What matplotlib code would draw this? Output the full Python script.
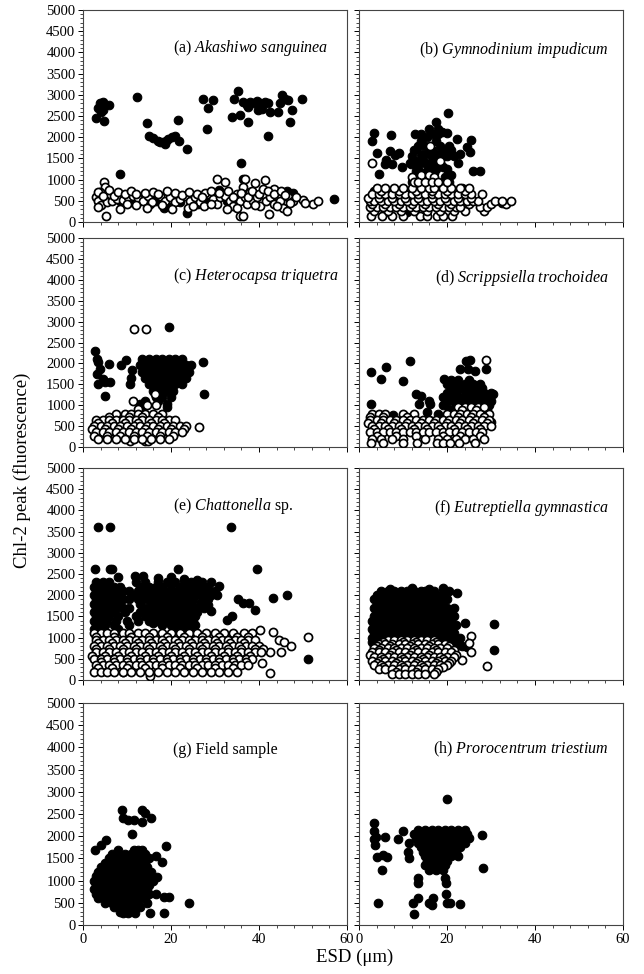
import matplotlib
matplotlib.use("Agg")
import matplotlib.pyplot as plt
from matplotlib.ticker import MultipleLocator, AutoMinorLocator

plt.rcParams['font.family'] = ['Liberation Serif', 'DejaVu Serif']
plt.rcParams['mathtext.fontset'] = 'custom'
plt.rcParams['mathtext.rm'] = 'Liberation Serif'
plt.rcParams['mathtext.it'] = 'Liberation Serif:italic'

# ---------------- data (ESD um, Chl-2 peak) ----------------
# filled = one group, open = other group; dense clouds stored as rows {y: [x, ...]}

a_fill = [(3.0, 2450), (3.3, 2690), (3.9, 2800), (4.6, 2840), (6.0, 2770), (4.0, 2600), (4.8, 2380),
          (4.5, 2640), (12.3, 2950), (14.5, 2340), (15.0, 2040), (15.8, 1985), (17.1, 1920), (18.1, 1880),
          (18.9, 1920), (19.4, 1960), (20.2, 2000), (20.9, 2040), (17.5, 1880), (18.6, 1840), (21.7, 2400),
          (21.9, 1900), (23.6, 1720), (27.2, 2900), (28.5, 2680), (29.5, 2870), (28.1, 2200), (34.4, 2910),
          (33.8, 2480), (35.3, 3090), (35.7, 2520), (36.4, 2840), (37.2, 2760), (38.0, 2840), (38.7, 2800),
          (39.5, 2860), (40.2, 2800), (41.4, 2840), (42.1, 2800), (37.6, 2720), (39.8, 2640), (40.6, 2660),
          (42.5, 2600), (44.4, 2600), (44.8, 2800), (45.2, 2990), (45.9, 2910), (46.7, 2870), (47.4, 2640),
          (47.0, 2360), (49.7, 2890), (37.6, 2370), (42.1, 2040), (35.8, 1400), (36.4, 1010), (8.3, 1130),
          (30.8, 750), (46.3, 730), (47.8, 690), (57.0, 540), (8.4, 500), (10.7, 460), (13.0, 500),
          (15.2, 420), (16.7, 500), (19.0, 380), (22.0, 460), (25.1, 500), (26.2, 420), (28.1, 500),
          (32.7, 500), (34.9, 460), (18.3, 340), (23.6, 210), (16.4, 540)]
a_open = [(3.0, 580), (3.5, 500), (4.0, 410), (5.0, 580), (3.3, 360), (5.4, 460), (6.5, 500), (7.7, 540),
          (9.2, 520), (10.3, 580), (11.4, 620), (12.6, 570), (13.7, 500), (14.8, 620), (15.6, 460),
          (17.5, 620), (18.6, 500), (19.8, 580), (20.9, 460), (22.0, 540), (23.2, 620), (24.3, 500),
          (25.5, 580), (26.6, 460), (27.5, 380), (28.5, 660), (29.6, 540), (30.4, 420), (31.1, 580),
          (32.3, 620), (33.4, 500), (34.2, 380), (34.9, 660), (35.7, 500), (36.8, 580), (37.2, 420),
          (38.0, 700), (38.7, 500), (39.5, 580), (40.2, 380), (41.0, 660), (41.7, 500), (42.5, 580),
          (43.3, 420), (44.0, 620), (44.8, 500), (45.5, 340), (46.7, 580), (47.8, 500), (50.1, 520),
          (52.3, 420), (53.5, 500), (4.8, 940), (5.0, 820), (3.9, 700), (6.1, 660), (30.4, 1020),
          (32.3, 940), (36.8, 1020), (39.1, 920), (41.4, 990), (43.3, 780), (36.4, 820), (27.7, 680),
          (5.2, 150), (35.7, 150), (36.4, 150), (42.3, 200), (8.4, 300), (14.5, 340), (20.2, 300),
          (23.9, 340), (32.7, 300), (46.3, 260), (3.5, 700), (4.5, 610), (6.0, 750), (7.0, 610),
          (8.0, 700), (9.5, 650), (11.0, 720), (12.0, 660), (14.0, 690), (16.0, 700), (17.0, 660),
          (19.0, 720), (21.0, 680), (22.5, 640), (24.0, 700), (26.0, 660), (27.0, 600), (29.0, 740),
          (31.0, 690), (33.0, 730), (34.0, 580), (36.0, 680), (37.5, 600), (38.5, 740), (40.0, 660),
          (41.0, 790), (42.0, 720), (43.5, 660), (45.0, 720), (46.0, 640), (47.0, 440), (48.5, 600),
          (50.5, 440), (10.0, 420), (12.0, 390), (18.0, 400), (25.0, 380), (29.0, 420), (35.0, 340),
          (39.0, 390), (44.0, 370)]

b_fill = [(3.3, 2100), (3.0, 1920), (7.3, 2050), (4.0, 1620), (7.0, 1680), (8.2, 1590), (9.2, 1620),
          (6.1, 1460), (7.4, 1370), (5.9, 1370), (4.6, 1140), (9.7, 1300), (11.8, 1370), (12.7, 2080),
          (14.2, 2080), (15.4, 2000), (16.5, 2080), (18.0, 2080), (18.8, 2120), (20.3, 2560), (22.2, 1960),
          (25.5, 1940), (24.5, 1760), (25.2, 1640), (25.8, 1210), (27.5, 1210), (3.3, 730), (9.2, 670),
          (32.4, 450), (23.3, 810), (10.0, 440), (13.0, 340), (16.0, 540), (18.0, 390), (20.5, 490),
          (22.0, 640), (8.0, 540), (6.0, 240), (11.0, 240), (24.0, 590)]
b_fill_rows = {2350: [17.5], 2200: [16.0, 18.0], 2100: [20.0],
               1900: [14.0, 17.5], 1800: [13.5, 15.0, 18.5, 20.5], 1700: [12.5, 16.5, 19.5, 21.0],
               1600: [14.0, 15.5, 17.0, 18.0, 23.0], 1550: [12.0, 19.0, 20.0, 21.5],
               1450: [13.0, 14.5, 16.5, 17.0], 1400: [11.5, 15.0, 18.5, 22.5],
               1300: [13.5, 16.0, 19.0], 1250: [20.0, 17.5], 1200: [13.0, 15.5],
               1150: [14.5, 17.0], 1100: [15.5, 21.0], 1050: [16.5, 19.5], 950: [20.5, 12.0], 850: [18.0]}
b_open = [(2.9, 1400), (16.1, 1800), (18.5, 1450), (12.0, 1050), (14.0, 1100), (16.0, 1100), (17.0, 1050)]
b_open_rows = {150: [2.7, 5.2, 7.6, 10.1, 13.9, 15.5, 17.8, 19.2, 21.1],
               250: [3.5, 6.5, 9.5, 12.5, 15.5, 18.5, 21.5, 24, 28.5],
               350: [2.5, 4, 5.5, 7, 8.5, 10, 11.5, 13, 14.5, 16, 17.5, 19, 20.5, 22, 23, 27.5, 29],
               425: [3, 6, 9, 12, 15, 18, 21, 25, 30, 33.5],
               500: [2.5, 3.5, 5, 6.5, 8, 9.5, 11, 12.5, 14, 15.5, 17, 18.5, 20, 21.5, 23, 24.5, 26, 27,
                     31, 32.5, 34.5],
               575: [2, 4.5, 7.5, 10.5, 13.5, 16.5, 19.5, 22.5, 25.5],
               650: [3, 4.5, 6, 7.5, 9, 10.5, 12, 13.5, 15, 16.5, 18, 19.5, 21, 22.5, 24, 25.5, 28],
               725: [5, 9, 13, 16.5, 20, 24],
               800: [4, 6, 8, 10, 12, 14, 16, 17, 19, 21, 23, 25],
               950: [12.5, 13.5, 15, 16.5, 18, 20]}

c_fill = [(2.7, 2290), (3.1, 2110), (3.5, 2030), (3.9, 1870), (3.1, 1750), (3.5, 1510), (5.0, 1550),
          (6.1, 1550), (4.6, 1630), (5.0, 1230), (5.8, 1990), (8.6, 1950), (9.8, 2090), (11.1, 1850),
          (10.8, 1650), (10.7, 1510), (19.6, 2870), (27.3, 2030), (27.5, 1260), (19.2, 1030), (19.2, 950),
          (12.9, 1030), (13.3, 950), (12.3, 280), (14.0, 400), (16.0, 300), (12.5, 500), (20.0, 350)]
c_fill_rows = {2100: [13.5, 15, 16.5, 18, 19.5, 21, 22.5],
               1950: [13, 14.5, 16, 17.5, 19, 20.5, 22, 23.5, 24.5],
               1800: [13.5, 15, 16.5, 18, 19.5, 21, 22.5, 24],
               1650: [14, 15.5, 17, 18.5, 20, 21.5, 23.5],
               1500: [15, 16.5, 18, 19.5, 21, 22.5],
               1350: [16, 17.5, 19, 20.5],
               1200: [16.5, 18, 20],
               1100: [14, 17]}
c_open = [(11.6, 2830), (14.3, 2830), (26.4, 480), (16.4, 1260), (11.4, 1090), (14.5, 1000), (16.7, 1000),
          (12.6, 920), (10.7, 150), (14.1, 150), (14.8, 150)]
c_open_rows = {800: [7.5, 9.5, 11, 12.5, 14, 16, 18],
               725: [6, 10.5, 13.5, 17],
               650: [3, 4.5, 6, 7.5, 9, 10.5, 12, 13.5, 15, 16.5, 18, 19.5, 21],
               575: [3.5, 6.5, 9.5, 12.5, 15.5, 18.5],
               500: [2.5, 4, 5.5, 7, 8.5, 10, 11.5, 13, 14.5, 16, 17.5, 19, 20.5, 22, 23.5],
               425: [2, 5, 8, 11, 14, 17, 20, 23],
               350: [3, 4.5, 6, 7.5, 9, 10.5, 12, 13.5, 15, 16.5, 18, 19.5, 21, 22.5],
               275: [2.5, 5.5, 8.5, 11.5, 14.5, 17.5, 20.5],
               200: [3.5, 5.5, 7.5, 9.5, 11.5, 13.5, 15.5, 17.5, 19.5]}

d_fill = [(2.7, 1790), (6.1, 1910), (4.9, 1630), (9.9, 1570), (11.6, 2050), (2.7, 1030), (13.0, 1270),
          (14.2, 1230), (13.6, 1030), (15.8, 1110), (16.1, 1030), (15.5, 840), (19.4, 1630), (23.0, 1870),
          (24.3, 2050), (25.2, 2070), (24.8, 1870), (28.9, 1870), (30.5, 1270), (26.4, 1810), (7.8, 770),
          (10.0, 600), (12.0, 700), (14.0, 500), (16.0, 650), (17.0, 450), (19.0, 700), (21.0, 500),
          (24.0, 400), (26.0, 300), (28.0, 450), (30.0, 600), (26.4, 240)]
d_fill_rows = {1600: [21, 22.5, 25],
               1500: [20, 22, 24, 26, 27.5],
               1400: [21, 23, 25, 26.5, 28],
               1300: [20, 22, 24, 25.5, 27, 28.5, 30],
               1200: [19, 21, 22.5, 24, 26, 27.5, 29],
               1100: [20, 21.5, 23, 25, 27, 28.5, 30],
               1000: [19, 22, 24, 26, 28, 29.5],
               900: [20.5, 23, 27, 29],
               800: [18, 22, 26, 28.5]}
d_open = [(28.9, 2090)]
d_open_rows = {950: [22.5, 24, 25.5, 27, 28.5],
               875: [23.5, 26.5],
               800: [3, 4.5, 6, 10, 12.5, 20, 21.5, 23, 24.5, 26, 27.5, 29.5],
               725: [2.5, 5.5, 11, 22.5, 25.5, 28.5],
               650: [2.5, 4, 5.5, 7, 8.5, 10, 11.5, 13, 14.5, 16, 17.5, 19, 20.5, 22, 23.5, 25, 26.5, 28, 29.5],
               575: [2, 5, 8, 11, 14, 17, 20, 23, 26, 29],
               500: [3, 4.5, 6, 7.5, 9, 10.5, 12, 13.5, 15, 16.5, 18, 19.5, 21, 22.5, 24, 25.5, 27, 28.5, 30],
               425: [3.5, 6.5, 9.5, 12.5, 15.5, 18.5, 21.5, 24.5, 27.5],
               350: [2.5, 4, 5.5, 7, 8.5, 10, 11.5, 13, 14.5, 16, 17.5, 19, 20.5, 22, 23.5, 25, 26.5, 28],
               275: [4, 8.5, 13, 19, 23, 27.5],
               200: [3, 5, 7.5, 10, 15, 18, 20, 22, 24, 26, 28.5],
               100: [2.7, 5.5, 9.9, 13.1, 17.8, 19.2, 20.7, 22.8, 26.4]}

e_fill = [(3.5, 3600), (6.1, 3600), (33.6, 3600), (2.7, 2610), (6.1, 2610), (6.7, 2610), (21.7, 2610),
          (39.6, 2610), (11.8, 2450), (13.7, 2450), (46.3, 2000), (43.1, 1930), (35.3, 1900), (36.4, 1810),
          (37.8, 1810), (39.1, 1650), (33.8, 1500), (32.7, 1420), (51.1, 500), (12.6, 1400), (16.0, 1350),
          (5, 300), (9, 200), (14, 500), (20, 400), (25, 300), (33, 500), (36, 400), (12, 700), (28, 600),
          (8, 2420), (17, 2400), (20, 2440), (23, 2380), (26, 2360), (30.5, 2000), (31, 2220), (29, 1620),
          (28.5, 1780), (10.5, 1300)]
e_fill_rows = {2300: [3, 4.5, 6, 12, 14, 17, 19, 21, 23, 24.5, 27, 29],
               2200: [2.5, 4, 5.5, 7, 8.5, 13, 15, 16.5, 18, 20, 22, 23.5, 25, 26.5, 28.5],
               2100: [3, 4.5, 6, 7.5, 9, 10.5, 12.5, 14, 15.5, 17, 18.5, 20, 21.5, 23, 24.5, 26, 28, 30],
               2000: [2.5, 4, 5.5, 7, 8.5, 11.5, 13, 15, 16.5, 18, 19.5, 21, 22.5, 24, 25.5, 27, 29],
               1900: [3, 4.5, 6, 7.5, 9, 10.5, 12.5, 14, 16, 17.5, 19, 20.5, 22, 23.5, 25, 27, 28.5],
               1800: [2.5, 4, 5.5, 7, 8.5, 13, 15.5, 17, 18.5, 20, 21.5, 23, 24.5, 26.5, 28],
               1700: [3, 4.5, 6, 7.5, 9, 10.5, 14, 16, 17.5, 19, 21, 22.5, 24, 25.5, 27.5],
               1600: [2.5, 4, 5.5, 7, 9.5, 13, 15, 17, 18.5, 20, 21.5, 23, 24.5, 26],
               1500: [3, 4.5, 6, 8, 12, 14, 16, 18, 19.5, 21, 22.5, 24, 25.5],
               1400: [2.5, 4, 5.5, 7.5, 10, 15, 17, 19, 20.5, 22, 23.5, 25],
               1300: [3, 5, 7, 18, 20, 22, 23.5, 25.5],
               1200: [2.5, 4.5, 8, 21, 22.5, 24],
               1100: [23, 24.5],
               1000: [24]}
e_open = [(43.1, 1140), (44.6, 940), (45.7, 900), (47.2, 800), (51.2, 1010), (44.9, 650), (42.4, 670),
          (40.6, 390), (42.5, 170), (15.2, 100), (40.2, 1180)]
e_open_rows = {1100: [2.5, 4, 5.5, 7, 9, 10.5, 12.5, 14, 16, 18, 20, 22, 24, 26, 28, 30, 32, 34, 36.5, 38.5],
               1025: [3, 7, 11, 15, 19, 23, 27, 31, 35, 37.5],
               950: [3, 4.5, 6, 7.5, 9, 10.5, 12, 13.5, 15, 16.5, 18, 19.5, 21, 22.5, 24, 25.5, 27, 28.5, 30,
                     31.5, 33, 34.5, 36, 37.5, 39],
               875: [3.5, 6.5, 9.5, 12.5, 15.5, 18.5, 21.5, 24.5, 27.5, 30.5, 33.5, 36.5],
               800: [2.5, 4, 5.5, 7, 8.5, 10, 11.5, 13, 14.5, 16, 17.5, 19, 20.5, 22, 23.5, 25, 26.5, 28,
                     29.5, 31, 32.5, 34, 35.5, 37, 38.5, 40],
               725: [3, 6, 9, 12, 15, 18, 21, 24, 27, 30, 33, 36, 39, 41],
               650: [3, 4.5, 6, 7.5, 9, 10.5, 12, 13.5, 15, 16.5, 18, 19.5, 21, 22.5, 24, 25.5, 27, 28.5, 30,
                     31.5, 33, 34.5, 36, 37.5, 39, 40.5],
               575: [2, 5, 8, 11, 14, 17, 20, 23, 26, 29, 32, 35, 38],
               500: [2.5, 4, 5.5, 7, 8.5, 10, 11.5, 13, 14.5, 16, 17.5, 19, 20.5, 22, 23.5, 25, 26.5, 28,
                     29.5, 31, 32.5, 34, 35.5, 37, 38.5],
               425: [4, 7, 10, 13, 16, 19, 22, 25, 28, 31, 34, 37],
               350: [3, 4.5, 6, 7.5, 9, 10.5, 12, 13.5, 15, 16.5, 18, 19.5, 21, 22.5, 24, 25.5, 27, 28.5, 30,
                     31.5, 33, 34.5, 36, 37.5],
               275: [3.5, 6.5, 10, 14, 18, 22, 26, 30, 34],
               200: [2.5, 4, 5.5, 7, 9, 11, 13, 15, 17, 19, 21, 23, 25, 27, 29, 31, 33, 35]}

f_fill = [(22.3, 2060), (24.1, 1350), (30.7, 1320), (30.7, 710), (24.5, 790), (7, 2150), (12, 2160),
          (16, 2150), (19, 2160)]
f_fill_rows = {2100: [5, 6.5, 8, 9.5, 11, 12.5, 14, 15, 17, 19, 20.5],
               2000: [4, 5.5, 7, 8.5, 10, 11.5, 13, 14.5, 16, 17.5, 19],
               1900: [3.5, 5, 6.5, 8, 9.5, 11, 12.5, 14, 15.5, 17, 18.5, 20],
               1800: [4, 5.5, 7, 8.5, 10, 11.5, 13, 14.5, 16, 17.5, 19],
               1700: [3.5, 5, 6.5, 8, 9.5, 11, 12.5, 14, 15.5, 17, 18.5, 20, 21.5],
               1600: [4, 5.5, 7, 8.5, 10, 11.5, 13, 14.5, 16, 17.5, 19, 20.5],
               1500: [3.5, 5, 6.5, 8, 9.5, 11, 12.5, 14, 15.5, 17, 18.5, 20, 21.5],
               1400: [3, 4.5, 6, 7.5, 9, 10.5, 12, 13.5, 15, 16.5, 18, 19.5, 21],
               1300: [3.5, 5, 6.5, 8, 9.5, 11, 12.5, 14, 15.5, 17, 18.5, 20, 22],
               1200: [3, 4.5, 6, 7.5, 9, 10.5, 12, 13.5, 15, 16.5, 18, 19.5, 21],
               1100: [3.5, 5, 6.5, 8, 9.5, 11, 12.5, 14, 15.5, 17, 18.5, 20, 21.5],
               1000: [3, 4.5, 6, 7.5, 17, 18.5, 20, 21.5, 23],
               900: [3, 4.5, 21, 22.5],
               800: [3.5, 22, 23.5]}
f_open = [(25.4, 1040), (25.1, 880), (25.4, 670), (23.3, 460), (29.0, 330)]
f_open_rows = {950: [6.5, 8, 9.5, 11, 12.5, 14, 15.5, 17],
               900: [5.5, 10, 13, 17.5],
               850: [4.5, 6, 7.5, 9, 10.5, 12, 13.5, 15, 16.5, 18, 19.5],
               800: [4, 7, 11.5, 16, 20.5],
               750: [3.5, 5, 6.5, 8, 9.5, 11, 12.5, 14, 15.5, 17, 18.5, 20],
               700: [4.5, 8.5, 13, 17.5, 21.5],
               650: [3, 4.5, 6, 7.5, 9, 10.5, 12, 13.5, 15, 16.5, 18, 19.5, 21],
               600: [2.5, 7, 11.5, 16, 22],
               550: [3.5, 5, 6.5, 8, 9.5, 11, 12.5, 14, 15.5, 17, 18.5, 20, 21.5],
               500: [5.5, 10, 14.5, 19],
               450: [3, 4.5, 6, 7.5, 9, 10.5, 12, 13.5, 15, 16.5, 18, 19.5, 21],
               400: [4, 8.5, 13, 17.5, 20.5],
               350: [3.5, 5, 6.5, 8, 9.5, 11, 12.5, 14, 15.5, 17, 18.5, 20],
               300: [5.5, 10, 14.5, 19],
               250: [4.5, 6, 7.5, 9, 10.5, 12, 13.5, 15, 16.5, 18],
               200: [8.5, 13, 17.5],
               150: [7.5, 9, 10.5, 12, 13.5, 15, 17]}

g_fill = [(8.8, 2590), (13.3, 2590), (14.1, 2520), (15.4, 2410), (9.0, 2410), (10.3, 2370), (11.5, 2370),
          (13.3, 2330), (11.1, 2050), (2.7, 1680), (4.0, 1800), (5.2, 1920), (18.9, 1780), (16.7, 1560),
          (17.9, 1410), (16.9, 1090), (18.3, 640), (19.6, 640), (24.2, 490), (15.2, 260), (18.3, 260),
          (9.2, 260), (10.3, 260), (11.8, 260)]
g_fill_rows = {1700: [8, 11.5, 12.5, 13.5],
               1600: [6.5, 8, 9.5, 11, 12.5, 14],
               1500: [6, 7.5, 9, 10.5, 12, 13.5, 15],
               1400: [5, 6.5, 8, 9.5, 11, 12.5, 14],
               1300: [4, 5.5, 7, 8.5, 10, 11.5, 13, 14.5],
               1200: [3.5, 5, 6.5, 8, 9.5, 11, 12.5, 14, 15.5],
               1100: [3, 4.5, 6, 7.5, 9, 10.5, 12, 13.5, 15],
               1000: [2.5, 4, 5.5, 7, 8.5, 10, 11.5, 13, 14.5, 16],
               900: [3, 4.5, 6, 7.5, 9, 10.5, 12, 13.5, 15],
               800: [2.5, 4, 5.5, 7, 8.5, 10, 11.5, 13, 14.5],
               700: [3, 4.5, 6, 7.5, 9, 10.5, 12, 13.5, 15, 16.5],
               600: [3.5, 5, 6.5, 8, 9.5, 11, 12.5, 14],
               500: [5, 6.5, 8, 9.5, 11, 12.5, 14.5],
               400: [7, 8.5, 10, 11.5, 13],
               300: [8.5, 10]}

h_fill = [(20.1, 2840), (3.3, 2290), (3.4, 2110), (3.9, 1990), (5.9, 1990), (3.4, 1940), (3.6, 1800),
          (4.0, 1540), (5.5, 1580), (6.3, 1540), (5.2, 1240), (10.1, 2110), (8.9, 1940), (11.4, 1840),
          (11.2, 1650), (11.4, 1500), (27.9, 2020), (28.1, 1280), (4.4, 490), (12.3, 490), (12.5, 240),
          (15.8, 490), (16.5, 450), (13.5, 600), (19.8, 690), (19.9, 490), (20.7, 490), (23.0, 470),
          (13.5, 1050), (13.5, 940), (19.5, 1050), (19.8, 940), (16.9, 600)]
h_fill_rows = {2150: [13.5, 15, 16.5, 18, 19.5, 21, 22.5, 24],
               2050: [12.5, 14, 15.5, 17, 18.5, 20, 21.5, 23, 24.5],
               1950: [13, 14.5, 16, 17.5, 19, 20.5, 22, 23.5, 25],
               1850: [13.5, 15, 16.5, 18, 19.5, 21, 22.5, 24],
               1750: [14, 15.5, 17, 18.5, 20, 21.5, 23],
               1650: [14.5, 16, 17.5, 19, 20.5, 22],
               1550: [15, 16.5, 18, 19.5, 21, 22.5],
               1450: [15.5, 17, 18.5, 20],
               1350: [15, 16.5, 18, 19.5],
               1250: [16, 17.5, 19]}

labels = [("(a) ", "Akashiwo\\ sanguinea", ""), ("(b) ", "Gymnodinium\\ impudicum", ""),
          ("(c) ", "Heterocapsa\\ triquetra", ""), ("(d) ", "Scrippsiella\\ trochoidea", ""),
          ("(e) ", "Chattonella", " sp."), ("(f) ", "Eutreptiella\\ gymnastica", ""),
          ("(g) Field sample", "", ""), ("(h) ", "Prorocentrum\\ triestium", "")]


def points(pairs, rows=None):
    xs = [p[0] for p in pairs]
    ys = [p[1] for p in pairs]
    if rows:
        for y, xl in rows.items():
            xs += list(xl)
            ys += [y] * len(xl)
    return xs, ys


panels = [
    (points(a_fill), points(a_open)),
    (points(b_fill, b_fill_rows), points(b_open, b_open_rows)),
    (points(c_fill, c_fill_rows), points(c_open, c_open_rows)),
    (points(d_fill, d_fill_rows), points(d_open, d_open_rows)),
    (points(e_fill, e_fill_rows), points(e_open, e_open_rows)),
    (points(f_fill, f_fill_rows), points(f_open, f_open_rows)),
    (points(g_fill, g_fill_rows), None),
    (points(h_fill, h_fill_rows), None),
]

W, H = 644, 974
rows_px = [(10, 222), (238, 447), (468, 680), (703, 925)]
cols_px = [(83, 347), (359, 623)]

fig = plt.figure(figsize=(W / 100, H / 100), dpi=100)

for i, (filled, opened) in enumerate(panels):
    r, c = divmod(i, 2)
    top, bot = rows_px[r]
    left, right = cols_px[c]
    ax = fig.add_axes([left / W, 1 - bot / H, (right - left) / W, (bot - top) / H])

    ax.scatter(filled[0], filled[1], s=38, c='black', edgecolors='black', linewidths=0.8, zorder=2)
    if opened is not None:
        ax.scatter(opened[0], opened[1], s=34, facecolors='white', edgecolors='black',
                   linewidths=1.25, zorder=3)

    ax.set_xlim(0, 60)
    ax.set_ylim(0, 5000)
    ax.xaxis.set_major_locator(MultipleLocator(20))
    ax.xaxis.set_minor_locator(AutoMinorLocator(5))
    ax.yaxis.set_major_locator(MultipleLocator(500))
    ax.yaxis.set_minor_locator(AutoMinorLocator(5))
    ax.tick_params(which='major', direction='out', length=3.5, width=0.7, labelsize=10.5, pad=2)
    ax.tick_params(which='minor', direction='out', length=2, width=0.5)
    for sp in ax.spines.values():
        sp.set_linewidth(0.8)
        sp.set_color('#444444')
    if c == 1:
        ax.set_yticklabels([])
    if r < 3:
        ax.set_xticklabels([])

    pre, it, post = labels[i]
    txt = pre + ("$\\mathit{" + it + "}$" if it else "") + post
    if c == 0:
        ax.text(0.34, 0.82 if r < 3 else 0.79, txt, transform=ax.transAxes,
                ha='left', va='center', fontsize=11.5)
    else:
        ax.text(0.945, 0.81 if r < 3 else 0.79, txt, transform=ax.transAxes,
                ha='right', va='center', fontsize=11.5)

fig.text(355 / W, 1 - 957 / H, "ESD (\u03bcm)", ha='center', va='center', fontsize=13.5)
fig.text(22 / W, 1 - 470 / H, "Chl-2 peak (fluorescence)", ha='center', va='center',
         rotation=90, fontsize=13.5)

fig.savefig("out.png", dpi=100)
